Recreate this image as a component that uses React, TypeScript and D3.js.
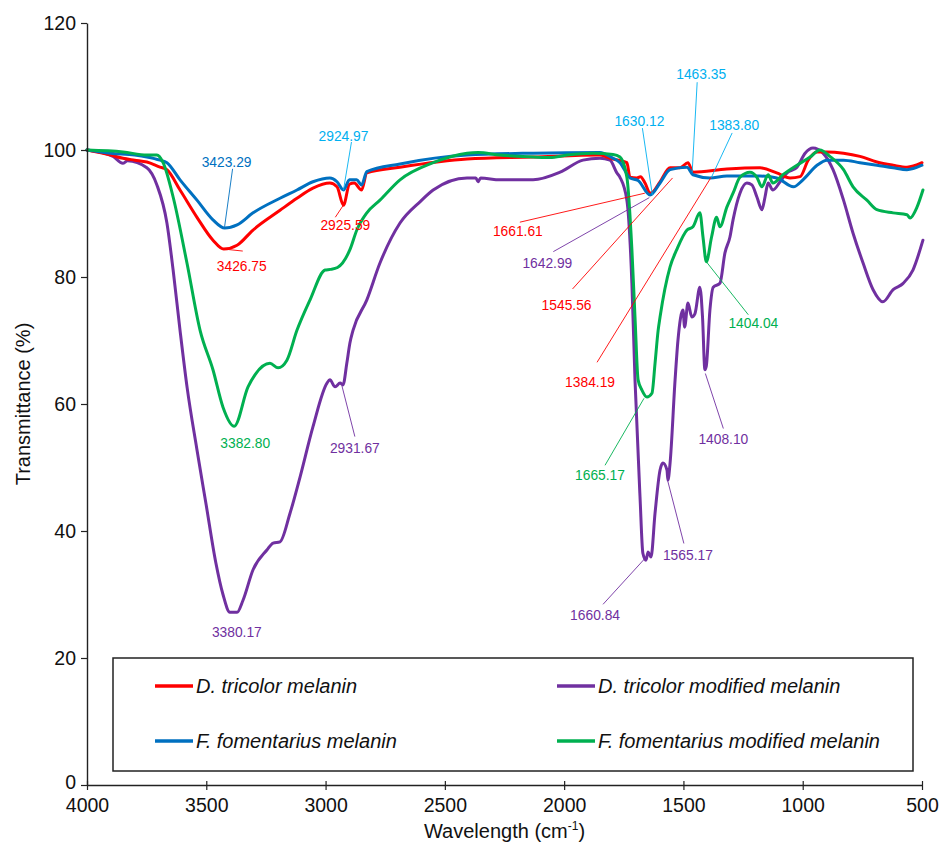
import React, { useEffect, useRef } from 'react';
import * as d3 from 'd3';

type Pt = [number, number];

// ---------- DATA ----------
const xTicks = [4000, 3500, 3000, 2500, 2000, 1500, 1000, 500];
const yTicks = [0, 20, 40, 60, 80, 100, 120];

const seriesNames = [
  'D. tricolor melanin',
  'D. tricolor modified melanin',
  'F. fomentarius melanin',
  'F. fomentarius modified melanin',
];

const tricolorMelanin: Pt[] = [
  [4000, 100], [3900, 99.2], [3849, 98.7], [3800, 98.4], [3749, 98.1], [3694, 97.3], [3665, 96.9],
  [3610, 93.7], [3539, 89.4], [3472, 85.8], [3427, 84.4], [3371, 85], [3304, 87.4], [3191, 90.5],
  [3120, 92.4], [3053, 94], [2982, 94.8], [2952, 94.2], [2925, 91.3], [2900, 94.6], [2880, 94.8],
  [2849, 93.7], [2827, 96.4], [2688, 97.3], [2407, 98.6], [2130, 98.9], [1850, 99.2], [1800, 98.6],
  [1737, 98], [1724, 95.7], [1695, 95.6], [1680, 95.8], [1661, 94.8], [1640, 93.2], [1628, 93.4],
  [1598, 95], [1556, 97.2], [1515, 97.2], [1481, 98], [1460, 96.5], [1318, 97], [1179, 97.2],
  [1109, 96.4], [1053, 95.6], [1011, 95.8], [977, 98.4], [940, 99.7], [898, 99.7], [829, 99.5],
  [760, 99], [689, 98.1], [621, 97.6], [563, 97.3], [500, 98],
];

const tricolorModified: Pt[] = [
  [4000, 100], [3891, 99], [3850, 97.9], [3830, 98.3], [3749, 97.2], [3707, 94.5], [3665, 88.5],
  [3639, 81.1], [3610, 71.6], [3580, 62.5], [3540, 53], [3500, 44], [3460, 35], [3430, 30],
  [3401, 27.2], [3371, 27.2],
  [3346, 29.1], [3304, 33.9], [3246, 37], [3220, 38.1], [3191, 38.3], [3149, 42.8], [3107, 48.5],
  [3053, 56.4], [2994, 63.3], [2982, 63.8], [2960, 62.7], [2939, 63.3], [2927, 63], [2911, 66.4],
  [2898, 69.6], [2885, 71.6], [2827, 76.4], [2772, 82.2], [2688, 88.5], [2600, 92], [2549, 93.7],
  [2407, 95.6], [2370, 95.6], [2361, 95], [2350, 95.6], [2269, 95.3], [2130, 95.3], [2017, 96.5],
  [1921, 98.4], [1850, 98.7], [1808, 98.4], [1779, 96.4], [1766, 95.7], [1737, 92.1], [1716, 79],
  [1703, 63.8], [1682, 45.4], [1670, 36.5], [1657, 35.4], [1648, 36.7], [1636, 35.9], [1619, 42.8],
  [1598, 49.6], [1586, 50.7], [1569, 49.6], [1565, 48], [1556, 50.7], [1535, 63.8], [1523, 70],
  [1502, 74.8], [1495, 72.1], [1481, 75.9], [1465, 73.7], [1452, 74.2], [1431, 78.4], [1420, 73.7],
  [1410, 65.4], [1404, 66], [1389, 74.8], [1375, 78.4], [1347, 79], [1326, 83.8], [1305, 86.3],
  [1292, 89], [1263, 93.2], [1234, 94.8], [1213, 94.5], [1192, 92.6], [1171, 90.6], [1158, 92.6],
  [1145, 94.8], [1125, 93.7], [1095, 95], [1066, 96.4], [1024, 97.3], [990, 99.5], [957, 100.3],
  [915, 99.5], [873, 96.9], [829, 92.1], [789, 86.9], [747, 82.2], [705, 78], [664, 76.1],
  [621, 78], [579, 79], [538, 81.1], [496, 85.8],
];

const fomentariusMelanin: Pt[] = [
  [4000, 100], [3900, 99.5], [3800, 99.2], [3749, 98.9], [3694, 98.4], [3665, 98], [3610, 95.3],
  [3539, 92.1], [3472, 89], [3423, 87.7], [3371, 88.2], [3304, 90.1], [3191, 92.4], [3120, 93.7],
  [3053, 95], [2982, 95.6], [2952, 95], [2925, 93.7], [2900, 95.3], [2870, 95.3], [2849, 94.5],
  [2827, 96.6], [2688, 97.8], [2407, 99.2], [2130, 99.5], [1850, 99.6], [1800, 98.8], [1766, 98],
  [1724, 95.6], [1690, 95.2], [1640, 92.9], [1598, 94.8], [1556, 96.9], [1485, 97.3], [1460, 96.1],
  [1389, 95.6], [1318, 95.9], [1179, 95.9], [1109, 95.6], [1039, 94.2], [999, 95.3], [940, 97.6],
  [898, 98.4], [829, 98.4], [760, 98], [689, 97.6], [621, 97.2], [563, 96.9], [500, 97.6],
];

const fomentariusModified: Pt[] = [
  [4000, 100], [3849, 99.7], [3749, 99.2], [3707, 99.2], [3681, 98], [3639, 92.6], [3581, 82.2],
  [3526, 71.6], [3472, 65.4], [3430, 59.5], [3383, 56.5], [3325, 62.7], [3296, 64.6], [3233, 66.4],
  [3199, 65.7], [3162, 66.9], [3120, 71.6], [3065, 76.4], [3002, 81.1], [2980, 81.2], [2950, 81.5],
  [2898, 84.3], [2869, 87.4], [2827, 90.1], [2772, 92.1], [2688, 95.3], [2549, 98], [2407, 99.5],
  [2361, 99.6], [2269, 99.2], [2130, 98.9], [2059, 98.8], [1988, 99.2], [1879, 99.5], [1795, 99.3],
  [1766, 98.9], [1737, 95.7], [1716, 84.3], [1703, 73.7], [1690, 63.8], [1674, 62.2], [1653, 61.1],
  [1632, 61.7], [1619, 66.4], [1606, 71.6], [1598, 73.7], [1556, 81.6], [1528, 84.3], [1485, 87.4],
  [1460, 87.9], [1431, 90.1], [1418, 86.3], [1404, 82.4], [1382, 86.3], [1361, 89.4], [1347, 87.9],
  [1318, 91], [1292, 93.2], [1263, 95.7], [1221, 96.5], [1192, 95.7], [1171, 94.2], [1145, 96.1],
  [1125, 94.8], [1083, 96.1], [1024, 97.6], [969, 98.9], [928, 100], [886, 99], [829, 96.9],
  [789, 94.2], [731, 92.1], [689, 90.6], [621, 90.1], [563, 89.8], [550, 89.3], [521, 91], [496, 93.7],
];

// peak annotations: label value (cm-1) and transmittance at the marked point
const peakLabels = [
  '3423.29', '3426.75', '2924.97', '2925.59', '3382.80', '3380.17', '2931.67',
  '1630.12', '1463.35', '1383.80', '1661.61', '1642.99', '1545.56', '1384.19',
  '1404.04', '1665.17', '1408.10', '1565.17', '1660.84',
];
const peakT = [
  87.9, 84.4, 93.7, 91.3, 56.4, 27.2, 62.9,
  92.9, 96.5, 95.6, 93.2, 92.5, 95.6, 95.7,
  82.4, 60.9, 64.8, 47.8, 35.7,
];
// which colour each annotation uses
const peakColorKey = [
  'fomDark', 'red', 'light', 'red', 'green', 'purple', 'purple',
  'light', 'light', 'light', 'red', 'purple', 'red', 'red',
  'green', 'green', 'purple', 'purple', 'purple',
];

// ---------- LAYOUT / STYLE ----------
const W = 939;
const H = 842;
const M = { left: 87, right: 17, top: 23, bottom: 57 };
const FONT = '"Liberation Sans", Arial, Helvetica, sans-serif';

const colors: Record<string, string> = {
  red: '#ff0000',
  purple: '#7030a0',
  fomDark: '#0070c0',
  green: '#00b050',
  light: '#00b0f0',
};
const seriesColors = [colors.red, colors.purple, colors.fomDark, colors.green];

// text offset (tdx,tdy) and leader start offset (ldx,ldy) from the annotated point, in px
const peakLayout: { tdx: number; tdy: number; ldx: number | null; ldy: number | null }[] = [
  { tdx: 2, tdy: -64, ldx: 8, ldy: -58 },
  { tdx: 18, tdy: 17, ldx: 19, ldy: 2 },
  { tdx: 0, tdy: -54, ldx: 8, ldy: -48 },
  { tdx: 2, tdy: 20, ldx: -8, ldy: 12 },
  { tdx: 11, tdy: 17, ldx: null, ldy: null },
  { tdx: 2, tdy: 20, ldx: null, ldy: null },
  { tdx: 13, tdy: 63, ldx: 13, ldy: 51 },
  { tdx: -13, tdy: -74, ldx: -10, ldy: -67 },
  { tdx: 9, tdy: -98, ldx: 5, ldy: -90 },
  { tdx: 23, tdy: -52, ldx: 21, ldy: -45 },
  { tdx: -127, tdy: 38, ldx: -125, ldy: 29 },
  { tdx: -102, tdy: 66, ldx: -96, ldy: 54 },
  { tdx: -106, tdy: 128, ldx: -100, ldy: 111 },
  { tdx: -121, tdy: 205, ldx: -114, ldy: 185 },
  { tdx: 47, tdy: 62, ldx: 42, ldy: 53 },
  { tdx: -44, tdy: 77, ldx: -39, ldy: 67 },
  { tdx: 18, tdy: 66, ldx: 18, ldy: 55 },
  { tdx: 20, tdy: 74, ldx: 16, ldy: 62 },
  { tdx: -50, tdy: 57, ldx: -42, ldy: 46 },
];

export default function App() {
  const xAxisRef = useRef<SVGGElement>(null);
  const yAxisRef = useRef<SVGGElement>(null);

  const x = d3.scaleLinear().domain([4000, 500]).range([M.left, W - M.right]);
  const y = d3.scaleLinear().domain([0, 120]).range([H - M.bottom, M.top]);

  const line = d3
    .line<Pt>()
    .x((d) => x(d[0]))
    .y((d) => y(d[1]))
    .curve(d3.curveMonotoneX);

  useEffect(() => {
    document.body.style.margin = '0';
    const gx = d3.select(xAxisRef.current as SVGGElement);
    gx.call(
      d3.axisBottom(x).tickValues(xTicks).tickSizeInner(5).tickSizeOuter(0).tickPadding(8).tickFormat(d3.format('d')) as any
    );
    gx.attr('font-size', 19.5).attr('font-family', FONT);
    gx.select('.domain').attr('stroke', '#222').attr('stroke-width', 1.4);
    gx.selectAll('.tick line').attr('stroke', '#222').attr('stroke-width', 1.2).attr('y1', -4).attr('y2', 5);
    gx.selectAll('.tick text').attr('fill', '#111');

    const gy = d3.select(yAxisRef.current as SVGGElement);
    gy.call(d3.axisLeft(y).tickValues(yTicks).tickSizeInner(6).tickSizeOuter(0).tickPadding(5) as any);
    gy.attr('font-size', 19.5).attr('font-family', FONT);
    gy.select('.domain').attr('stroke', '#222').attr('stroke-width', 1.4);
    gy.selectAll('.tick line').attr('stroke', '#222').attr('stroke-width', 1.2);
    gy.selectAll('.tick text').attr('fill', '#111');
    gy.selectAll<SVGTextElement, number>('.tick text').attr('dy', (d) => (d === 0 ? '0.2em' : '0.32em'));
  }, []);

  const drawOrder = [
    { data: tricolorModified, color: seriesColors[1] },
    { data: tricolorMelanin, color: seriesColors[0] },
    { data: fomentariusMelanin, color: seriesColors[2] },
    { data: fomentariusModified, color: seriesColors[3] },
  ];

  const legendX0 = 113;
  const legendY0 = 658;
  const legendW = 800;
  const legendH = 113;
  const legendItems = [
    { name: seriesNames[0], color: seriesColors[0], lx: 155, ly: 686 },
    { name: seriesNames[1], color: seriesColors[1], lx: 557, ly: 686 },
    { name: seriesNames[2], color: seriesColors[2], lx: 155, ly: 741 },
    { name: seriesNames[3], color: seriesColors[3], lx: 557, ly: 741 },
  ];

  return (
    <svg
      width={W}
      height={H}
      viewBox={`0 0 ${W} ${H}`}
      style={{ display: 'block', position: 'absolute', left: 0, top: 0, background: '#fff' }}
      fontFamily={FONT}
    >
      <rect x={0} y={0} width={W} height={H} fill="#fff" />

      {drawOrder.map((s, i) => (
        <path
          key={i}
          d={line(s.data) || ''}
          fill="none"
          stroke={s.color}
          strokeWidth={3}
          strokeLinejoin="round"
          strokeLinecap="round"
        />
      ))}

      {peakLabels.map((lab, i) => {
        const ax = x(parseFloat(lab));
        const ay = y(peakT[i]);
        const L = peakLayout[i];
        const c = colors[peakColorKey[i]];
        return (
          <g key={lab + i}>
            {L.ldx !== null && L.ldy !== null && (
              <line x1={ax + L.ldx} y1={ay + L.ldy} x2={ax} y2={ay} stroke={c} strokeWidth={0.9} />
            )}
            <text
              x={ax + L.tdx}
              y={ay + L.tdy}
              fill={c}
              fontSize={13.8}
              textAnchor="middle"
              dominantBaseline="central"
            >
              {lab}
            </text>
          </g>
        );
      })}

      <g ref={yAxisRef} transform={`translate(${M.left},0)`} />
      <g ref={xAxisRef} transform={`translate(0,${H - M.bottom})`} />

      <text
        transform={`translate(23,${(M.top + H - M.bottom) / 2}) rotate(-90)`}
        textAnchor="middle"
        dominantBaseline="central"
        fontSize={20}
        fill="#111"
      >
        Transmittance (%)
      </text>
      <text x={(M.left + W - M.right) / 2} y={838} textAnchor="middle" fontSize={20} fill="#111">
        Wavelength (cm
        <tspan fontSize={12} dy={-8}>-1</tspan>
        <tspan dy={8}>)</tspan>
      </text>

      <rect
        x={legendX0}
        y={legendY0}
        width={legendW}
        height={legendH}
        fill="#fff"
        stroke="#222"
        strokeWidth={1.5}
      />
      {legendItems.map((it) => (
        <g key={it.name}>
          <line x1={it.lx} y1={it.ly} x2={it.lx + 38} y2={it.ly} stroke={it.color} strokeWidth={3.5} />
          <text
            x={it.lx + 41}
            y={it.ly}
            dominantBaseline="central"
            fontSize={20}
            fontStyle="italic"
            fill="#111"
          >
            {it.name}
          </text>
        </g>
      ))}
    </svg>
  );
}
